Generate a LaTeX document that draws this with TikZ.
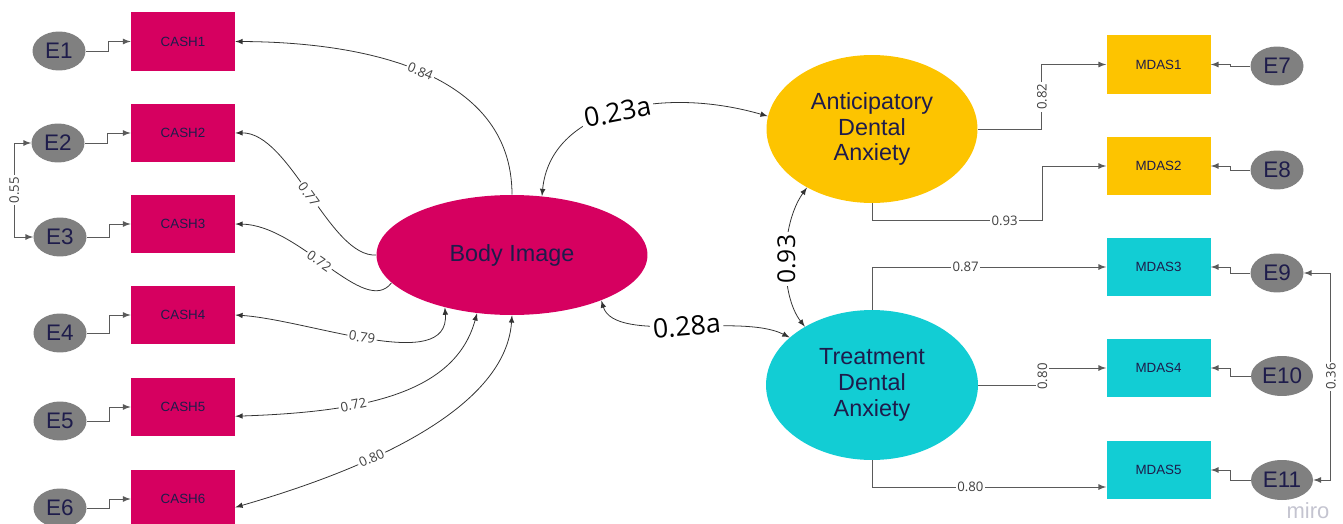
\documentclass[tikz,border=0pt]{standalone}
\usepackage{fontspec}
\setmainfont{Liberation Sans}
\newfontfamily\lblfont{Open Sans}
\usetikzlibrary{shapes, positioning, arrows}

\definecolor{bodypink}{RGB}{214,0,96}
\definecolor{antyellow}{RGB}{253,196,0}
\definecolor{trtcyan}{RGB}{18,205,212}
\definecolor{errgray}{RGB}{128,128,128}
\definecolor{navytext}{RGB}{30,28,75}
\definecolor{linegray}{RGB}{90,90,90}
\definecolor{mirogray}{RGB}{196,196,208}

\begin{document}
\begin{tikzpicture}[
    x=0.02cm, y=-0.02cm, >=latex,
    indicator/.style={rectangle, inner sep=0pt, minimum width=2.08cm, minimum height=1.17cm,
      text=navytext, font=\fontsize{7.6}{9}\selectfont},
    cash/.style={indicator, fill=bodypink},
    mdasA/.style={indicator, fill=antyellow},
    mdasT/.style={indicator, fill=trtcyan},
    err/.style={ellipse, inner sep=0pt, fill=errgray, minimum width=1.06cm, minimum height=0.78cm,
      text=navytext, font=\fontsize{12.8}{14}\selectfont},
    errwide/.style={err, minimum width=1.24cm, minimum height=0.8cm},
    latent/.style={ellipse, inner sep=0pt, align=center, text=navytext,
      font=\fontsize{13.3}{14.7}\selectfont},
    stepline/.style={draw=linegray, line width=0.55pt},
    curve/.style={draw=black!80, line width=0.45pt},
    lbl/.style={fill=white, inner sep=1pt, text=black!75, font=\lblfont\fontsize{7.5}{9}\selectfont},
    biglbl/.style={fill=white, inner sep=1.5pt, text=black, font=\lblfont\fontsize{15.2}{18}\selectfont}
  ]
  \useasboundingbox (0,0) rectangle (1343,524);
  \clip (0,0) rectangle (1343,524);

  % latent variables
  \node[latent, fill=bodypink, minimum width=5.42cm, minimum height=2.4cm] (bi) at (512,255) {Body Image};
  \node[latent, fill=antyellow, minimum width=4.22cm, minimum height=2.96cm] (ada) at (872,129) {Anticipatory\\Dental\\Anxiety};
  \node[latent, fill=trtcyan, minimum width=4.24cm, minimum height=3cm] (tda) at (872,385) {Treatment\\Dental\\Anxiety};

  % CASH items and their errors
  \node[cash] (c1) at (183,41.5) {CASH1};
  \node[cash] (c2) at (183,133) {CASH2};
  \node[cash] (c3) at (183,224) {CASH3};
  \node[cash] (c4) at (183,315) {CASH4};
  \node[cash] (c5) at (183,407) {CASH5};
  \node[cash] (c6) at (183,499) {CASH6};
  \node[err] (e1) at (59,51) {E1};
  \node[err] (e2) at (58,143) {E2};
  \node[err] (e3) at (60,237) {E3};
  \node[err] (e4) at (60,333) {E4};
  \node[err] (e5) at (60,421) {E5};
  \node[err] (e6) at (60,508) {E6};

  % MDAS items and their errors
  \node[mdasA] (m1) at (1158.5,64.5) {MDAS1};
  \node[mdasA] (m2) at (1158.5,166) {MDAS2};
  \node[mdasT] (m3) at (1158.5,267) {MDAS3};
  \node[mdasT] (m4) at (1158.5,368) {MDAS4};
  \node[mdasT] (m5) at (1158.5,470) {MDAS5};
  \node[err] (e7) at (1277,66) {E7};
  \node[err] (e8) at (1277,170) {E8};
  \node[err] (e9) at (1277,273) {E9};
  \node[errwide] (e10) at (1282,376) {E10};
  \node[errwide] (e11) at (1282,480) {E11};

  \node[text=mirogray, font=\fontsize{12.5}{14}\selectfont] (miro) at (1308,511) {miro};

  % error terms
  \foreach \i in {1,...,6}
    \draw[stepline,->] (e\i.east) -- ++(23,0) |- (c\i.west);
  \foreach \i/\m in {7/1,8/2,9/3,10/4,11/5}
    \draw[stepline,->] (e\i.west) -- ++(-20,0) |- (m\m.east);
  \draw[stepline,<->] (e2.west) -- ++(-17,0) |- node[lbl,pos=0.25,rotate=90]{0.55} (e3.west);
  \draw[stepline,<->] (e9.east) -- ++(27,0) |- node[lbl,pos=0.25,rotate=90]{0.36} (e11.east);

  % body image loadings
  \draw[curve,->] (bi.north) .. controls (512,70) and (360,42) .. node[lbl,sloped]{0.84} (c1.east);
  \draw[curve,->] (bi.west) .. controls (330,258) and (290,132) .. node[lbl,sloped]{0.77} (c2.east);
  \draw[curve,->] (bi.193) .. controls (365,318) and (300,225) .. node[lbl,sloped,pos=0.55]{0.72} (c3.east);
  \draw[curve,<->] (c4.east) .. controls (310,320) and (450,375) .. node[lbl,sloped,pos=0.47]{0.79} (bi.218);
  \draw[curve,<->] (bi.239) .. controls (455,395) and (360,412) .. node[lbl,sloped,pos=0.65]{0.72} (c5.-10);
  \draw[curve,<->] (bi.south) .. controls (505,420) and (330,480) .. node[lbl,sloped,pos=0.6]{0.80} (c6.-9);

  % dental anxiety loadings
  \draw[stepline,->] (ada.east) -- ++(64,0) |- node[lbl,pos=0.25,rotate=90]{0.82} (m1.west);
  \draw[stepline,->] (ada.south) -- ++(0,17) -- node[lbl,pos=0.78]{0.93} ++(170,0) |- (m2.west);
  \draw[stepline,->] (tda.north) |- node[lbl,pos=0.7]{0.87} (m3.west);
  \draw[stepline,->] (tda.east) -- ++(64,0) |- node[lbl,pos=0.25,rotate=90]{0.80} (m4.west);
  \draw[stepline,->] (tda.south) |- node[lbl,pos=0.71]{0.80} (m5.198);

  % correlations between latents
  \draw[curve,<->] (bi.63) .. controls (550,110) and (660,85) .. node[biglbl,rotate=11]{0.23a} (ada.173);
  \draw[curve,<->] (bi.333) .. controls (615,345) and (740,312) .. node[biglbl,rotate=5,pos=0.52]{0.28a} (tda.150);
  \draw[curve,<->] (ada.222) .. controls (780,225) and (780,295) .. node[biglbl,rotate=90,font=\lblfont\fontsize{14}{16}\selectfont]{0.93} (tda.139);
\end{tikzpicture}
\end{document}
